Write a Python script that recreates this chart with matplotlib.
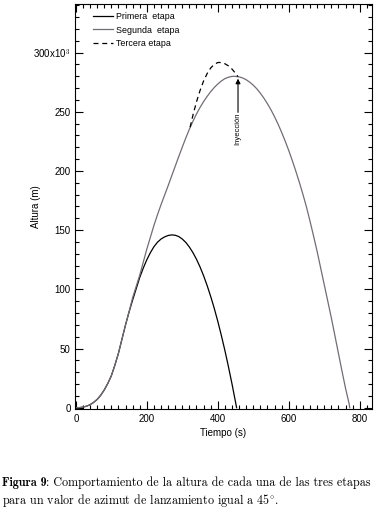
import matplotlib
matplotlib.use('Agg')
import matplotlib.pyplot as plt
from matplotlib.ticker import MultipleLocator, FixedLocator, FixedFormatter

plt.rcParams['font.family'] = ['Liberation Sans', 'DejaVu Sans']
plt.rcParams['mathtext.fontset'] = 'cm'

# Primera etapa (tiempo en s, altura en miles de m)
t1 = [0, 10, 20, 30, 40, 50, 60, 70, 80, 90, 100, 110, 120, 130, 140, 150,
      160, 170, 180, 190, 200, 210, 220, 230, 240, 250, 260, 270, 280, 290,
      300, 310, 320, 330, 340, 350, 360, 370, 380, 390, 400, 410, 420, 430,
      440, 450, 453]
h1 = [0, 0.1, 0.5, 1.3, 2.5, 4.5, 7, 10.5, 15, 20.5, 27, 36, 46, 58, 70, 81,
      91, 100.5, 110, 118, 125, 131, 136, 139.8, 142.5, 144.3, 145.5, 146,
      145.7, 144.6, 142.5, 139.6, 135.7, 131, 125.4, 118.9, 111.5, 103.2, 94,
      84, 73, 61.1, 48.4, 34.7, 20.2, 4.8, 0]

# Segunda etapa
t2 = [0, 10, 20, 30, 40, 50, 60, 70, 80, 90, 100, 110, 120, 130, 140, 150,
      160, 170, 180, 190, 200, 210, 220, 230, 240, 250, 260, 270, 280, 290,
      300, 310, 320, 330, 340, 350, 360, 370, 380, 390, 400, 410, 420, 430,
      440, 447, 460, 470, 480, 490, 500, 510, 520, 530, 540, 550, 560, 570,
      580, 590, 600, 610, 620, 630, 640, 650, 660, 670, 680, 690, 700, 710,
      720, 730, 740, 750, 760, 765, 770, 772]
h2 = [0, 0.1, 0.5, 1.3, 2.5, 4.5, 7, 10.5, 15, 20.5, 27, 36, 46, 58, 70, 81,
      93, 102.5, 112, 123, 134, 144, 154, 163, 171.5, 179.5, 187.5, 195.8,
      204, 212.2, 220.2, 228, 235.3, 242, 248.2, 253.7, 258.6, 263, 267,
      270.5, 273.5, 276, 278, 279.2, 279.9, 280, 279.5, 278.6, 277.1, 275,
      272.5, 269.4, 265.7, 261.5, 256.8, 251.6, 245.8, 239.5, 232.6, 225.2,
      217.3, 208.8, 199.8, 190.3, 180.2, 169.5, 157.5, 145, 132, 118, 104, 90,
      76, 61, 46, 31, 16.5, 10, 3.5, 0]

# Tercera etapa
t3 = [322, 330, 340, 350, 360, 370, 380, 390, 400, 404, 410, 420, 430, 440,
      450, 457]
h3 = [237, 247.2, 258.4, 268, 276, 282.3, 287, 290.1, 291.6, 291.7, 291.5,
      290.6, 288.8, 286.1, 282.5, 279.7]

ytick_vals = [0, 50, 100, 150, 200, 250, 300]
ytick_labels = ['0', '50', '100', '150', '200', '250', '300x10$^3$']

fig = plt.figure(figsize=(3.74, 5.09), dpi=100)
ax = fig.add_axes([0.200, 0.197, 0.795, 0.795])

k = 1000.0
ax.plot(t1, [v * k for v in h1], color='black', lw=0.9, label='Primera  etapa')
ax.plot(t2, [v * k for v in h2], color='#726d74', lw=0.9, label='Segunda  etapa')
ax.plot(t3, [v * k for v in h3], color='black', lw=0.9, ls=(0, (4, 3)),
        label='Tercera etapa')

# flecha de inyeccion
ax.annotate('', xy=(457, 278000), xytext=(457, 249500),
            arrowprops=dict(arrowstyle='-|>', color='black', lw=0.8,
                            mutation_scale=7, shrinkA=0, shrinkB=0))
ax.text(457, 235500, 'Inyección', rotation=90, ha='center', va='center',
        fontsize=5.5)

ax.set_xlim(-3, 835)
ax.set_ylim(-850, 341000)

ax.xaxis.set_major_locator(MultipleLocator(200))
ax.xaxis.set_minor_locator(MultipleLocator(20))
ax.yaxis.set_major_locator(FixedLocator([v * k for v in ytick_vals]))
ax.yaxis.set_major_formatter(FixedFormatter(ytick_labels))
ax.yaxis.set_minor_locator(MultipleLocator(10000))

ax.tick_params(which='both', direction='in', top=True, right=True,
               labelsize=7, width=0.8)
ax.tick_params(axis='x', pad=4)
ax.tick_params(axis='y', pad=3)
ax.tick_params(which='major', length=6)
ax.tick_params(which='minor', length=3)
for s in ax.spines.values():
    s.set_linewidth(0.8)

ax.set_xlabel('Tiempo (s)', fontsize=7, labelpad=3)
ax.set_ylabel('Altura (m)', fontsize=7)
ax.yaxis.set_label_coords(-0.115, 0.5)

ax.legend(loc='upper left', bbox_to_anchor=(0.062, 0.98), frameon=False,
          fontsize=6.4, handlelength=2.2, handletextpad=0.35, labelspacing=0.5,
          borderpad=0, borderaxespad=0)

# pie de figura: parte en negrita y resto en romana
bold = fig.text(0.005, 0.051, 'Figura 9', fontfamily='cmb10', fontsize=8.7,
                ha='left', va='center')
renderer = fig.canvas.get_renderer()
bb = bold.get_window_extent(renderer=renderer)
x_rest = bb.x1 / fig.bbox.width
fig.text(x_rest, 0.051, ': Comportamiento de la altura de cada una de las tres etapas',
         fontfamily='cmr10', fontsize=8.7, ha='left', va='center')
fig.text(0.005, 0.016, r'para un valor de azimut de lanzamiento igual a 45$^{\circ}$.',
         fontfamily='cmr10', fontsize=8.7, ha='left', va='center')

fig.savefig('out.png', dpi=100)
